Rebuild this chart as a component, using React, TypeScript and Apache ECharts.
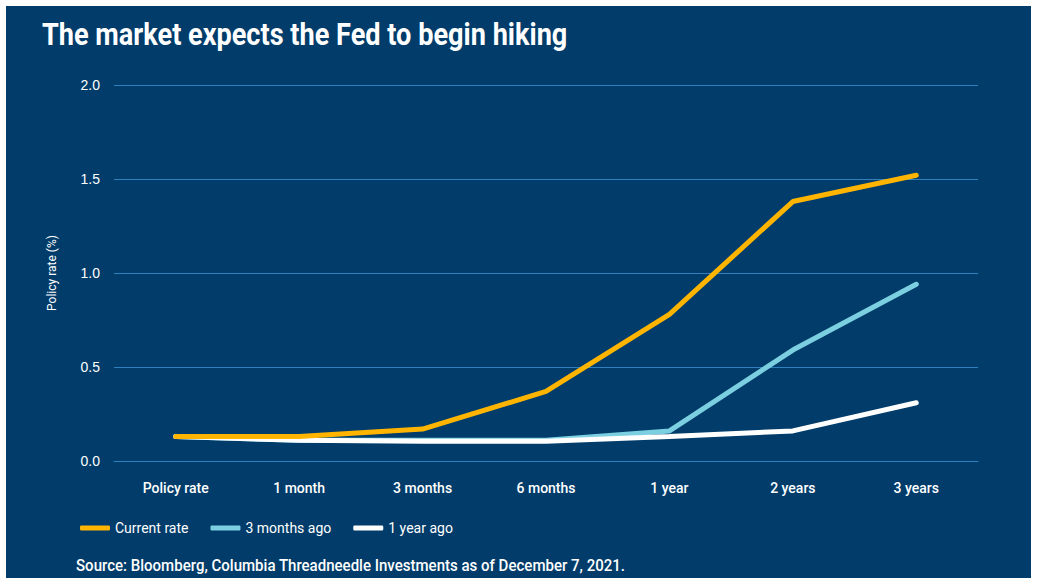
import React, { useEffect, useRef } from "react";
import * as echarts from "echarts";

const categories = ["Policy rate", "1 month", "3 months", "6 months", "1 year", "2 years", "3 years"];
const currentRate = [0.13, 0.13, 0.17, 0.37, 0.78, 1.38, 1.52];
const threeMonthsAgo = [0.13, 0.11, 0.11, 0.11, 0.16, 0.59, 0.94];
const oneYearAgo = [0.13, 0.11, 0.105, 0.105, 0.13, 0.16, 0.31];
const yTicks = [0, 0.5, 1.0, 1.5, 2.0];

const PANEL = "#013c6a";
const GRIDC = "#2f80bc";
const NARROW = 'Roboto, "Liberation Sans", sans-serif';

export default function App() {
  const ref = useRef<HTMLDivElement>(null);
  useEffect(() => {
    document.body.style.margin = "0";
    const chart = echarts.init(ref.current!, null, { renderer: "svg" });
    chart.setOption({
      animation: false,
      backgroundColor: "#ffffff",
      graphic: [
        { type: "rect", z: -10, shape: { x: 6, y: 6, width: 1025, height: 580 }, style: { fill: PANEL } },
        {
          type: "text", x: 42, y: 19, scaleX: 0.875,
          style: { text: "The market expects the Fed to begin hiking", fill: "#ffffff", font: `bold 31px ${NARROW}` },
        },
        {
          type: "text", x: 76, y: 558, scaleX: 0.94,
          style: { text: "Source: Bloomberg, Columbia Threadneedle Investments as of December 7, 2021.", fill: "#ffffff", font: `500 16px ${NARROW}` },
        },
      ],
      grid: { left: 114, right: 61, top: 85, bottom: 117, containLabel: false },
      legend: {
        left: 75, top: 516,
        itemWidth: 30, itemHeight: 5, itemGap: 22,
        icon: "roundRect",
        textStyle: { color: "#ffffff", fontSize: 14, fontFamily: NARROW },
        data: ["Current rate", "3 months ago", "1 year ago"],
      },
      xAxis: {
        type: "category",
        data: categories,
        boundaryGap: true,
        axisLine: { lineStyle: { color: GRIDC, width: 1 } },
        axisTick: { alignWithLabel: true, length: 9, lineStyle: { color: GRIDC } },
        axisLabel: { color: "#ffffff", fontSize: 14, fontWeight: 500, fontFamily: NARROW, margin: 20 },
      },
      yAxis: {
        type: "value",
        min: 0, max: 2, interval: 0.5,
        name: "Policy rate (%)",
        nameLocation: "middle",
        nameGap: 56,
        nameTextStyle: { color: "#ffffff", fontSize: 12, fontFamily: NARROW },
        axisLine: { show: false },
        axisTick: { show: false },
        splitLine: { lineStyle: { color: GRIDC, width: 1 } },
        axisLabel: {
          color: "#ffffff", fontSize: 14, fontWeight: 500, fontFamily: '"Liberation Sans", Arial, sans-serif', margin: 14,
          formatter: (v: number) => (yTicks.includes(v) ? v.toFixed(1) : ""),
        },
      },
      series: [
        { name: "3 months ago", type: "line", data: threeMonthsAgo, symbol: "none", z: 2, lineStyle: { color: "#7ccfe0", width: 5, cap: "round" }, itemStyle: { color: "#7ccfe0" } },
        { name: "1 year ago", type: "line", data: oneYearAgo, symbol: "none", z: 3, lineStyle: { color: "#ffffff", width: 5, cap: "round" }, itemStyle: { color: "#ffffff" } },
        { name: "Current rate", type: "line", data: currentRate, symbol: "none", z: 4, lineStyle: { color: "#ffb500", width: 5, cap: "round" }, itemStyle: { color: "#ffb500" } },
      ],
    });
    return () => chart.dispose();
  }, []);
  return <div ref={ref} style={{ position: "absolute", left: 0, top: 0, width: 1039, height: 578 }} />;
}
